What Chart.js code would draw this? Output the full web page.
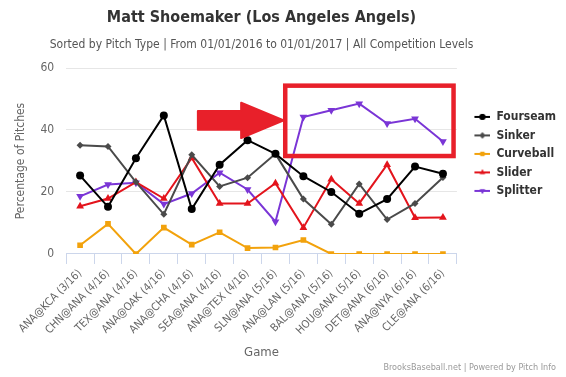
<!DOCTYPE html>
<html>
<head>
<meta charset="utf-8">
<script src="https://cdn.jsdelivr.net/npm/chart.js@4"></script>
<style>
  html, body { margin: 0; padding: 0; background: #fff; }
  #wrap { width: 566px; height: 377px; }
</style>
</head>
<body>
<div id="wrap"><canvas id="chart" width="566" height="377"></canvas></div>
<script>
(function () {
    'use strict';

    // ─── Data ────────────────────────────────────────────────────────────────
    const games = [
        'ANA@KCA (3/16)', 'CHN@ANA (4/16)', 'TEX@ANA (4/16)', 'ANA@OAK (4/16)',
        'ANA@CHA (4/16)', 'SEA@ANA (4/16)', 'ANA@TEX (4/16)', 'SLN@ANA (5/16)',
        'ANA@LAN (5/16)', 'BAL@ANA (5/16)', 'HOU@ANA (5/16)', 'DET@ANA (6/16)',
        'ANA@NYA (6/16)', 'CLE@ANA (6/16)'
    ];
    const fourseam  = [25.3, 15.2, 30.9, 44.7, 14.5, 28.8, 36.7, 32.3, 25.1, 20.0, 13.0, 17.7, 28.2, 25.9];
    const sinker    = [35.1, 34.7, 23.2, 12.8, 32.0, 21.8, 24.6, 32.3, 17.7, 9.6, 22.6, 11.1, 16.3, 24.7];
    const curveball = [2.8, 9.7, 0.0, 8.5, 3.0, 7.0, 1.9, 2.1, 4.5, 0.0, 0.0, 0.0, 0.0, 0.0];
    const slider    = [15.4, 17.9, 23.2, 17.9, 31.0, 16.3, 16.3, 22.8, 8.5, 24.1, 16.3, 28.8, 11.7, 11.8];
    const splitter  = [18.6, 22.4, 23.0, 16.1, 19.5, 26.2, 20.8, 10.4, 44.2, 46.4, 48.5, 42.1, 43.6, 36.3];
    const yTicks    = [0, 20, 40, 60];

    const TITLE    = 'Matt Shoemaker (Los Angeles Angels)';
    const SUBTITLE = 'Sorted by Pitch Type | From 01/01/2016 to 01/01/2017 | All Competition Levels';
    const CREDIT   = 'BrooksBaseball.net | Powered by Pitch Info';

    // annotation geometry in data units (category index / percent)
    const box   = { x0: 7.35, x1: 13.38, y0: 31.6, y1: 54.3 };
    const arrow = { tail: 4.22, neck: 5.77, tip: 7.3, y: 43.1, body: 3.0, head: 5.7 };

    const FONT = "'DejaVu Sans Condensed', 'DejaVu Sans', sans-serif";
    const RED  = '#e8202a';

    // legend symbol: short line with the marker on it (left part kept blank as a gap)
    function legendIcon(color, style, rot, r) {
        const c = document.createElement('canvas');
        c.width = 27; c.height = 10;
        const g = c.getContext('2d');
        g.strokeStyle = color; g.lineWidth = 2;
        g.beginPath(); g.moveTo(11, 5); g.lineTo(27, 5); g.stroke();
        g.fillStyle = color;
        Chart.helpers.drawPoint(g, { pointStyle: style, rotation: rot, radius: r, borderWidth: 0 }, 19, 5);
        g.fill();
        return c;
    }

    function series(label, data, color, style, rot, r) {
        return {
            label, data,
            borderColor: color, backgroundColor: color,
            borderWidth: 2, tension: 0,
            pointStyle: style, rotation: rot, pointRadius: r,
            pointBorderWidth: 0, pointHoverRadius: r,
            icon: legendIcon(color, style, rot, 3)
        };
    }

    const sets = [
        series('Fourseam',  fourseam,  '#000000', 'circle',   0,   4),
        series('Sinker',    sinker,    '#4a4a4a', 'rectRot',  0,   3.5),
        series('Curveball', curveball, '#f2a20c', 'rect',     0,   4),
        series('Slider',    slider,    '#e3141c', 'triangle', 0,   4.5),
        series('Splitter',  splitter,  '#7a35d6', 'triangle', 180, 4.5)
    ];

    // ─── Annotation, titles + credit plugin ──────────────────────────────────
    const overlay = {
        id: 'overlay',
        afterDatasetsDraw(chart) {
            const { ctx, scales: { x, y } } = chart;
            ctx.save();
            // box
            ctx.strokeStyle = RED; ctx.lineWidth = 4.5;
            const bx0 = x.getPixelForValue(box.x0), bx1 = x.getPixelForValue(box.x1);
            const by0 = y.getPixelForValue(box.y1), by1 = y.getPixelForValue(box.y0);
            ctx.strokeRect(bx0, by0, bx1 - bx0, by1 - by0);
            // arrow
            const xt = x.getPixelForValue(arrow.tail), xn = x.getPixelForValue(arrow.neck), xp = x.getPixelForValue(arrow.tip);
            const yc = y.getPixelForValue(arrow.y);
            const bt = y.getPixelForValue(arrow.y + arrow.body), bb = y.getPixelForValue(arrow.y - arrow.body);
            const ht = y.getPixelForValue(arrow.y + arrow.head), hb = y.getPixelForValue(arrow.y - arrow.head);
            ctx.fillStyle = RED;
            ctx.lineJoin = 'round';
            ctx.beginPath();
            ctx.moveTo(xt, bt); ctx.lineTo(xn, bt); ctx.lineTo(xn, ht); ctx.lineTo(xp, yc);
            ctx.lineTo(xn, hb); ctx.lineTo(xn, bb); ctx.lineTo(xt, bb); ctx.closePath();
            ctx.lineWidth = 2; ctx.strokeStyle = RED;
            ctx.fill(); ctx.stroke();
            ctx.restore();
        },
        afterDraw(chart) {
            const { ctx, chartArea } = chart;
            const cx = (chartArea.left + chartArea.right) / 2;
            ctx.save();
            ctx.textAlign = 'center';
            ctx.textBaseline = 'middle';
            ctx.fillStyle = '#333';
            ctx.font = 'bold 16px ' + FONT;
            ctx.fillText(TITLE, cx, 18);
            ctx.fillStyle = '#555';
            ctx.font = '12px ' + FONT;
            ctx.fillText(SUBTITLE, cx, 45);
            ctx.font = '9px ' + FONT;
            ctx.fillStyle = '#999';
            ctx.textAlign = 'right';
            ctx.fillText(CREDIT, chart.width - 10, chart.height - 9);
            ctx.restore();
        }
    };

    new Chart(document.getElementById('chart'), {
        type: 'line',
        data: { labels: games, datasets: sets },
        plugins: [overlay],
        options: {
            responsive: false,
            animation: false,
            layout: { padding: { left: 0, right: 0, top: 68, bottom: 13 } },
            plugins: {
                tooltip: { enabled: false },
                title: { display: false },
                legend: {
                    position: 'right',
                    align: 'start',
                    fullSize: false,
                    title: { display: true, text: '', font: { size: 12 }, padding: { top: 22, bottom: 0 } },
                    labels: {
                        color: '#333',
                        font: { family: FONT, size: 12, weight: 'bold' },
                        usePointStyle: true,
                        pointStyleWidth: 27,
                        padding: 6.5,
                        generateLabels(chart) {
                            return chart.data.datasets.map((d, i) => ({
                                text: d.label,
                                pointStyle: d.icon,
                                fillStyle: d.borderColor,
                                strokeStyle: d.borderColor,
                                lineWidth: 0,
                                fontColor: '#333',
                                hidden: false,
                                datasetIndex: i
                            }));
                        }
                    }
                }
            },
            scales: {
                x: {
                    offset: true,
                    grid: { offset: true, drawOnChartArea: false, color: '#ccd6eb', tickLength: 10 },
                    border: { color: '#ccd6eb' },
                    ticks: {
                        autoSkip: false, minRotation: 45, maxRotation: 45,
                        color: '#666', font: { family: FONT, size: 11 }, padding: 3
                    },
                    title: {
                        display: true, text: 'Game', color: '#666',
                        font: { family: FONT, size: 13 }, padding: { top: 4, bottom: 4 }
                    }
                },
                y: {
                    min: 0, max: 60,
                    afterBuildTicks(scale) { scale.ticks = yTicks.map(v => ({ value: v })); },
                    grid: { color: '#e6e6e6', drawTicks: false },
                    border: { display: false },
                    ticks: { color: '#666', font: { family: FONT, size: 12 }, padding: 12 },
                    title: {
                        display: true, text: 'Percentage of Pitches', color: '#666',
                        font: { family: FONT, size: 12 }, padding: { top: 14, bottom: 0 }
                    }
                }
            }
        }
    });
})();
</script>
</body>
</html>
